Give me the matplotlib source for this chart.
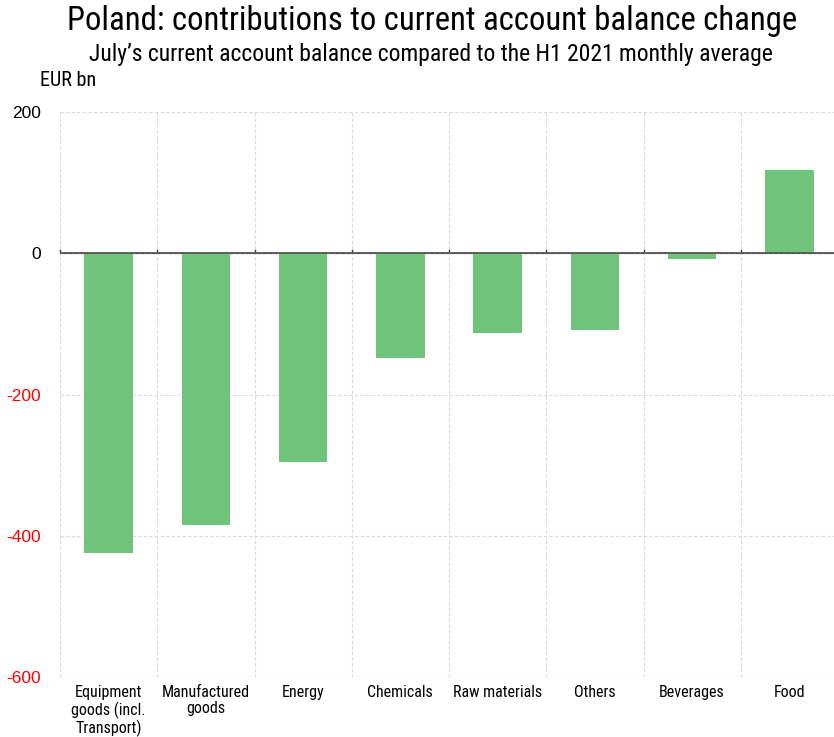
import matplotlib
matplotlib.use("Agg")
import matplotlib.pyplot as plt
import numpy as np
from matplotlib import font_manager
from matplotlib.font_manager import FontProperties

categories = ["Equipment\ngoods (incl.\nTransport)", "Manufactured\ngoods", "Energy",
              "Chemicals", "Raw materials", "Others", "Beverages", "Food"]
values = [-425, -385, -295, -148, -113, -109, -8, 118]
yticks = [200, 0, -200, -400, -600]

files = font_manager.findSystemFonts()
cond_file = None
for pref in ["RobotoCondensed-Regular", "LiberationSansNarrow-Regular", "OpenSans_Condensed-Regular",
             "OpenSansCondensed-Regular", "DejaVuSansCondensed.ttf"]:
    for f in files:
        if pref.lower() in f.lower().replace(" ", ""):
            cond_file = f
            break
    if cond_file:
        break

def fp(size):
    if cond_file:
        return FontProperties(fname=cond_file, size=size)
    return FontProperties(family="DejaVu Sans", stretch="condensed", size=size)

fig = plt.figure(figsize=(8.34, 7.37), dpi=100)
ax = fig.add_axes([60/834, 60/737, 778/834, 565/737])

x = np.arange(len(categories))
ax.bar(x, values, width=0.5, color="#70c37a", zorder=3)

ax.set_xlim(-0.5, len(categories) - 0.5)
ax.set_ylim(-600, 200)
ax.set_yticks(yticks)
ax.set_yticklabels([str(v) for v in yticks], family="Liberation Sans", fontsize=12.5)
for lab, v in zip(ax.get_yticklabels(), yticks):
    lab.set_color("#ff0000" if v < 0 else "black")
ax.tick_params(axis="y", length=0, pad=14)

ax.set_xticks(x)
ax.set_xticklabels(categories)
for lab in ax.get_xticklabels():
    lab.set_fontproperties(fp(11.5))
    lab.set_linespacing(1.08)
ax.tick_params(axis="x", length=0, pad=6)
ax.set_xticks(np.arange(len(categories) + 1) - 0.5, minor=True)
ax.tick_params(axis="x", which="minor", length=0)

ax.grid(True, axis="y", which="major", linestyle=(0, (3, 2)), color="#d9d9d9", linewidth=0.8, zorder=0)
ax.grid(True, axis="x", which="minor", linestyle=(0, (3, 2)), color="#d9d9d9", linewidth=0.8, zorder=0)
for s in ax.spines.values():
    s.set_visible(False)

ax.axhline(0, color="#555555", linewidth=1.3, zorder=4)
sec = ax.secondary_xaxis(600/800)
sec.set_xticks(np.arange(len(categories) + 1) - 0.5)
sec.set_xticklabels([])
sec.tick_params(length=3, width=1, color="#333333")
sec.spines["bottom"].set_visible(False)

fig.text(432/834, 1 - 21/737, "Poland: contributions to current account balance change",
         ha="center", va="center", fontproperties=fp(23.5))
fig.text(431/834, 1 - 54/737, "July\u2019s current account balance compared to the H1 2021 monthly average",
         ha="center", va="center", fontproperties=fp(17))
fig.text(40/834, 1 - 80/737, "EUR bn", ha="left", va="center", fontproperties=fp(14.5))

fig.savefig("out.png", dpi=100)
